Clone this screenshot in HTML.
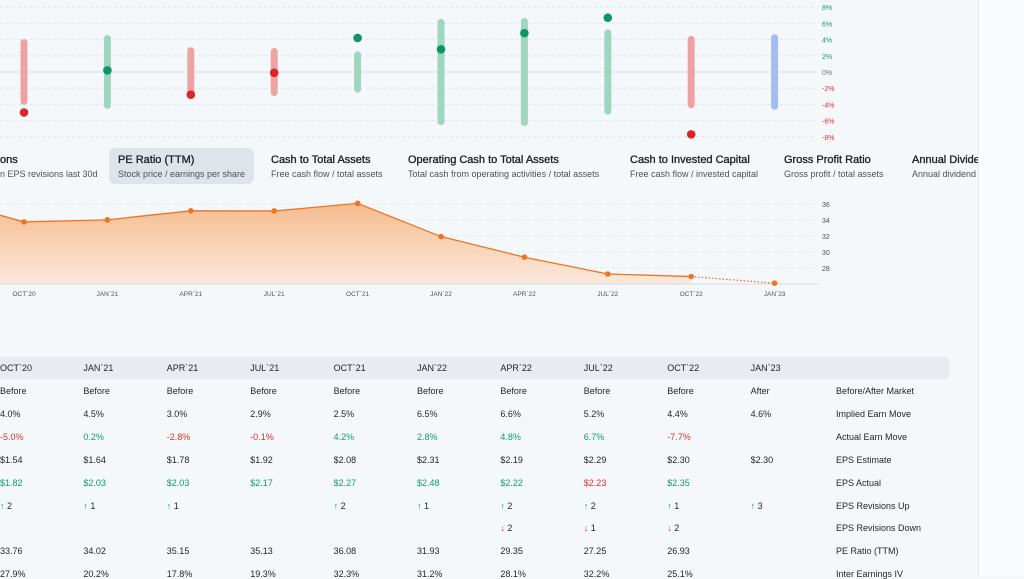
<!DOCTYPE html>
<html><head><meta charset="utf-8">
<style>
html,body{margin:0;padding:0;}
body{width:1024px;height:576px;overflow:hidden;background:#f5f8fa;font-family:"Liberation Sans",sans-serif;position:relative;}
#side{position:absolute;left:978px;top:0;width:46px;height:576px;background:#fafbfc;border-left:1px solid #e6e9ed;}
.tab{position:absolute;top:148px;height:36px;padding:0 9px;box-sizing:border-box;}
.tab .t{font-size:11px;color:#1e2329;-webkit-text-stroke:0.35px #1e2329;margin-top:6px;white-space:nowrap;}
.tab .s{font-size:9px;color:#4a5159;margin-top:3px;white-space:nowrap;}
#tabs{position:absolute;left:0;top:0;width:978px;height:200px;overflow:hidden;}
.sel{background:#dfe4eb;border-radius:6px;}
#thead{position:absolute;left:0;top:357px;width:950px;height:22px;background:#e8ecf1;border-radius:0 5px 5px 0;}
.c{position:absolute;font-size:9px;white-space:nowrap;color:#1e2329;}
.g{color:#0f9b6a}.r{color:#d9312f}
</style></head><body>
<div id="side"></div>
<svg id="topchart" width="978" height="145" style="position:absolute;left:0;top:0"></svg>
<div id="tabs">
 <div class="tab" style="left:-9px"><div class="t">ons</div><div class="s">n EPS revisions last 30d</div></div>
 <div class="tab sel" style="left:109px;width:145px"><div class="t">PE Ratio (TTM)</div><div class="s">Stock price / earnings per share</div></div>
 <div class="tab" style="left:262px"><div class="t">Cash to Total Assets</div><div class="s">Free cash flow / total assets</div></div>
 <div class="tab" style="left:399px"><div class="t">Operating Cash to Total Assets</div><div class="s">Total cash from operating activities / total assets</div></div>
 <div class="tab" style="left:621px"><div class="t">Cash to Invested Capital</div><div class="s">Free cash flow / invested capital</div></div>
 <div class="tab" style="left:775px"><div class="t">Gross Profit Ratio</div><div class="s">Gross profit / total assets</div></div>
 <div class="tab" style="left:903px"><div class="t">Annual Divide</div><div class="s">Annual dividend</div></div>
</div>
<svg id="pe" width="978" height="110" style="position:absolute;left:0;top:195px"></svg>
<div id="thead"></div>
<div id="table"></div>
<script>
const quarters=["OCT`20","JAN`21","APR`21","JUL`21","OCT`21","JAN`22","APR`22","JUL`22","OCT`22","JAN`23"];
const impliedMove=[4.0,4.5,3.0,2.9,2.5,6.5,6.6,5.2,4.4,4.6];
const actualMove=[-5.0,0.2,-2.8,-0.1,4.2,2.8,4.8,6.7,-7.7,null];
const pctTicks=[8,6,4,2,0,-2,-4,-6,-8];
const peValues=[33.76,34.02,35.15,35.13,36.08,31.93,29.35,27.25,26.93,26.1];
const pePrior=36.7;
const peTicks=[36,34,32,30,28];
const NS="http://www.w3.org/2000/svg";
function mk(p,tag,a){const e=document.createElementNS(NS,tag);for(const k in a)e.setAttribute(k,a[k]);p.appendChild(e);return e;}
const xq=i=>24+i*83.4;
// top chart
const topSvg=document.getElementById('topchart');
const yp=v=>72-v*8.1;
pctTicks.forEach(t=>{
 const l=mk(topSvg,'line',{x1:0,x2:816,y1:yp(t),y2:yp(t),stroke:t===0?'#e1e5ea':'#dde1e6','stroke-width':t===0?1.5:0.8,'stroke-dasharray':t===0?'':'3,3'});
 
 
 const tx=mk(topSvg,'text',{x:822,y:yp(t)+3,'font-size':7,fill:t>0?'#0f9b6a':t<0?'#d9312f':'#6b7178'});
 tx.textContent=t+'%';
 
 
});
quarters.forEach((q,i)=>{
 const a=actualMove[i];
 const col=a===null?'#a4bdf0':(a<0?'#eea3a3':'#9fd6c0');
 const b=mk(topSvg,'line',{x1:xq(i),x2:xq(i),y1:yp(impliedMove[i])+3,y2:yp(-impliedMove[i])-3,stroke:col,'stroke-width':7,'stroke-linecap':'round'});
 
 
 if(a!==null){const d=mk(topSvg,'circle',{cx:xq(i),cy:yp(a),r:4.3,fill:a<0?'#d9262a':'#0e9466'});
 
 }
});
// PE chart
const pe=document.getElementById('pe');
const yv=v=>9-(v-36)*8;
const grad=mk(mk(pe,'defs',{}),'linearGradient',{id:'gr',x1:0,y1:0,x2:0,y2:1});
mk(grad,'stop',{offset:'0','stop-color':'#f5b989'});mk(grad,'stop',{offset:'1','stop-color':'#fbe9dd'});
peTicks.forEach(t=>{
 const l=mk(pe,'line',{x1:0,x2:816,y1:yv(t),y2:yv(t),stroke:'#dde1e6','stroke-width':0.8,'stroke-dasharray':'3,3'});
 
 
 const tx=mk(pe,'text',{x:822,y:yv(t)+3,'font-size':7,fill:'#4a5159'});tx.textContent=t;
 
 
});
const base=89;
let pts=[[xq(-1),yv(pePrior)]];
for(let i=0;i<9;i++)pts.push([xq(i),yv(peValues[i])]);
const area=mk(pe,'path',{d:'M'+pts.map(p=>p.join(',')).join('L')+`L${xq(8)},${base}L${xq(-1)},${base}Z`,fill:'url(#gr)'});


const ln=mk(pe,'polyline',{points:pts.map(p=>p.join(',')).join(' '),fill:'none',stroke:'#ee7424','stroke-width':1.3});


const dl=mk(pe,'line',{x1:xq(8),y1:yv(peValues[8]),x2:xq(9),y2:yv(peValues[9]),stroke:'#ee7424','stroke-width':1.3,'stroke-dasharray':'1.5,2'});


const ax=mk(pe,'line',{x1:0,x2:818,y1:base,y2:base,stroke:'#d5dae0','stroke-width':1});


quarters.forEach((q,i)=>{
 const c=mk(pe,'circle',{cx:xq(i),cy:yv(peValues[i]),r:2.8,fill:'#ee7424'});
 
 
 const t=mk(pe,'text',{x:xq(i),y:101,'font-size':6.5,fill:'#4a5159','text-anchor':'middle'});t.textContent=q;
 
 
});
// table
const rowsData=[
 ["Before/After Market",["Before","Before","Before","Before","Before","Before","Before","Before","Before","After"],null],
 ["Implied Earn Move",["4.0%","4.5%","3.0%","2.9%","2.5%","6.5%","6.6%","5.2%","4.4%","4.6%"],null],
 ["Actual Earn Move",["-5.0%","0.2%","-2.8%","-0.1%","4.2%","2.8%","4.8%","6.7%","-7.7%",""],"sign"],
 ["EPS Estimate",["$1.54","$1.64","$1.78","$1.92","$2.08","$2.31","$2.19","$2.29","$2.30","$2.30"],null],
 ["EPS Actual",["$1.82","$2.03","$2.03","$2.17","$2.27","$2.48","$2.22","$2.23","$2.35",""],"eps"],
 ["EPS Revisions Up",["↑ 2","↑ 1","↑ 1","","↑ 2","↑ 1","↑ 2","↑ 2","↑ 1","↑ 3"],"up"],
 ["EPS Revisions Down",["","","","","","","↓ 2","↓ 1","↓ 2",""],"down"],
 ["PE Ratio (TTM)",["33.76","34.02","35.15","35.13","36.08","31.93","29.35","27.25","26.93",""],null],
 ["Inter Earnings IV",["27.9%","20.2%","17.8%","19.3%","32.3%","31.2%","28.1%","32.2%","25.1%",""],null]];
const tb=document.getElementById('table');
function cell(x,y,html,name){const d=document.createElement('div');d.className='c';d.style.left=x+'px';d.style.top=y+'px';d.innerHTML=html;
 
 
 tb.appendChild(d);}
quarters.forEach((q,i)=>cell(xq(i)-24,363,q,'table-header-cell'));
rowsData.forEach((r,ri)=>{
 const y=386+ri*22.9;
 cell(836,y,r[0],'row-label');
 r[1].forEach((v,i)=>{
  if(!v)return;
  let html=v;
  if(r[2]==='sign')html='<span class="'+(v.startsWith('-')?'r':'g')+'">'+v+'</span>';
  else if(r[2]==='eps')html='<span class="'+(i===7?'r':'g')+'">'+v+'</span>';
  else if(r[2]==='up')html='<span class="g">'+v[0]+'</span>'+v.slice(1);
  else if(r[2]==='down')html='<span class="r">'+v[0]+'</span>'+v.slice(1);
  cell(xq(i)-24,y,html,'table-cell');
 });
});
</script>
</body></html>
